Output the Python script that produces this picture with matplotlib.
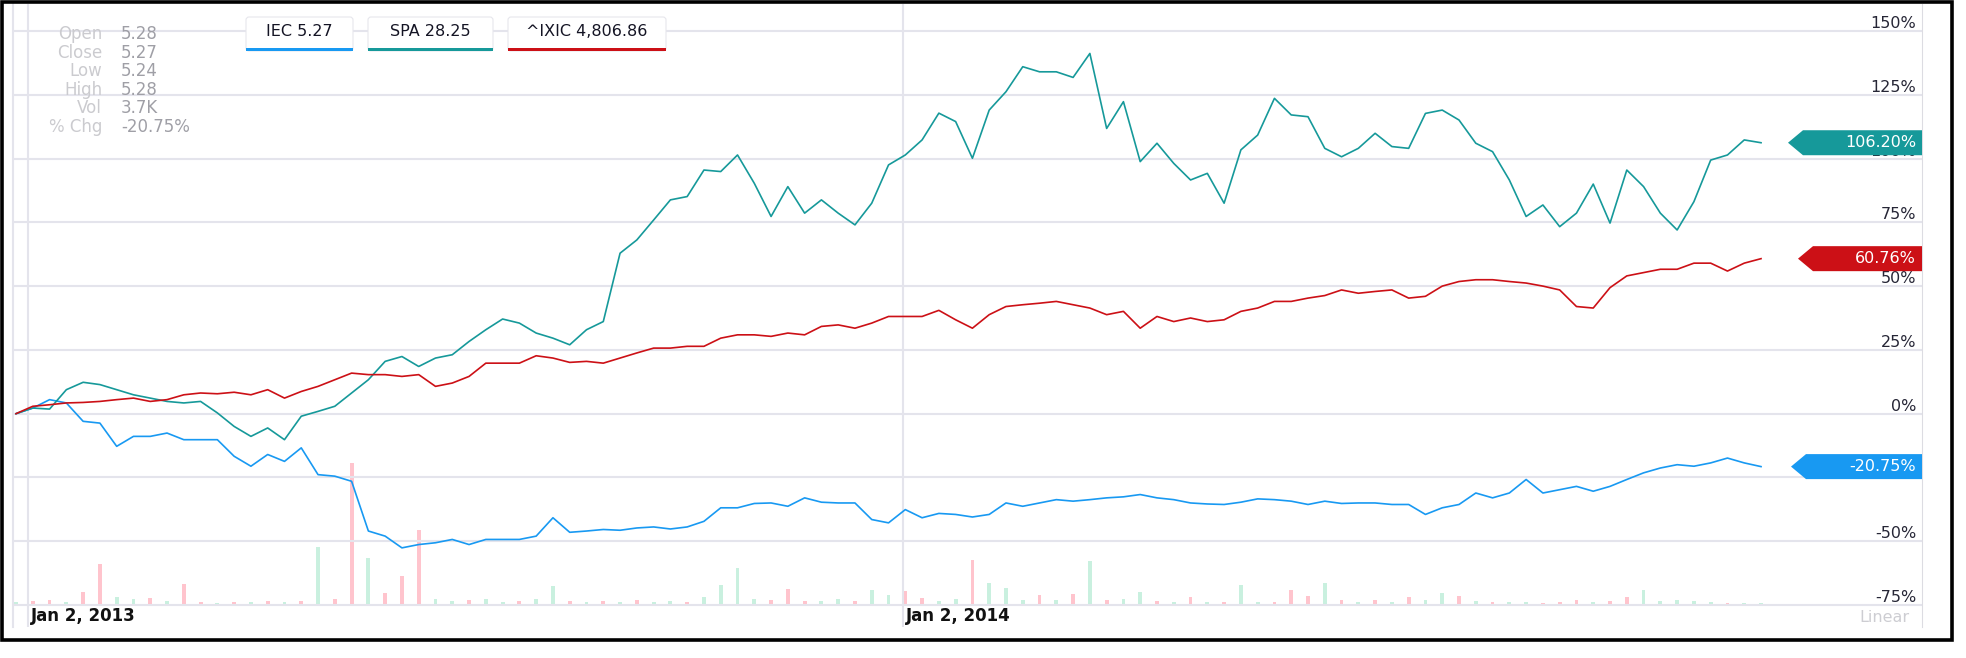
import matplotlib
matplotlib.use('Agg')
import matplotlib.pyplot as plt
import matplotlib.dates as mdates
import pandas as pd
from matplotlib.patches import Polygon, FancyBboxPatch, Rectangle
from matplotlib.transforms import IdentityTransform

plt.rcParams['font.family'] = ['DejaVu Sans']

# weekly closes, % change since the start of the period
dates = pd.date_range('2012-12-28', periods=105, freq='7D')

iec = [0, 2.2, 5.5, 4.2, -3.0, -3.7, -12.8, -8.9, -8.9, -7.6,
       -10.2, -10.2, -10.2, -16.7, -20.6, -16.0, -18.7, -13.4, -23.9, -24.5,
       -26.5, -46.0, -48.0, -52.6, -51.3, -50.6, -49.3, -51.3, -49.3, -49.3,
       -49.3, -48.0, -40.8, -46.5, -46.0, -45.4, -45.7, -44.8, -44.4, -45.2,
       -44.4, -42.2, -36.9, -36.9, -35.2, -35.0, -36.3, -33.0, -34.7, -35.0,
       -35.0, -41.5, -42.8, -37.6, -40.8, -39.1, -39.5, -40.5, -39.5, -35.0,
       -36.3, -35.0, -33.7, -34.3, -33.7, -33.0, -32.6, -31.7, -33.0, -33.7,
       -35.0, -35.4, -35.6, -34.7, -33.4, -33.7, -34.3, -35.6, -34.3, -35.2,
       -35.0, -35.0, -35.6, -35.6, -39.5, -36.9, -35.6, -31.1, -33.0, -31.1,
       -25.8, -31.1, -29.8, -28.5, -30.4, -28.5, -25.8, -23.2, -21.3, -20.0,
       -20.6, -19.3, -17.4, -19.3, -20.75]

spa = [0, 2.2, 1.8, 9.4, 12.3, 11.4, 9.4, 7.4, 6.1, 4.8,
       4.2, 4.8, 0.3, -5.0, -8.9, -5.6, -10.2, -1.0, 0.9, 2.9,
       8.1, 13.3, 20.5, 22.4, 18.5, 21.8, 23.1, 28.3, 32.9, 37.1,
       35.5, 31.6, 29.6, 27.0, 32.9, 36.1, 62.9, 68.1, 75.9, 83.8,
       85.1, 95.5, 94.9, 101.4, 90.3, 77.3, 89.0, 78.6, 83.8, 78.6,
       74.0, 82.5, 97.5, 101.4, 107.3, 117.8, 114.5, 100.1, 119.0, 126.2,
       136.0, 134.0, 134.0, 131.8, 141.2, 111.8, 122.3, 98.8, 106.0, 98.1,
       91.6, 94.2, 82.5, 103.4, 109.2, 123.6, 117.1, 116.4, 104.0, 100.7,
       104.0, 109.9, 104.7, 104.0, 117.7, 119.0, 115.1, 106.0, 102.7, 91.6,
       77.3, 81.8, 73.3, 78.6, 90.0, 74.7, 95.5, 89.0, 78.6, 72.0,
       83.1, 99.4, 101.4, 107.3, 106.2]

ixic = [0, 2.9, 3.5, 4.2, 4.4, 4.8, 5.5, 6.1, 4.8, 5.5,
        7.4, 8.1, 7.8, 8.4, 7.4, 9.4, 6.1, 8.7, 10.7, 13.3,
        15.9, 15.3, 15.3, 14.6, 15.3, 10.7, 12.0, 14.6, 19.8, 19.8,
        19.8, 22.7, 21.8, 20.1, 20.5, 19.8, 21.8, 23.8, 25.7, 25.7,
        26.4, 26.4, 29.6, 30.9, 30.9, 30.3, 31.6, 30.9, 34.2, 34.8,
        33.5, 35.5, 38.1, 38.1, 38.1, 40.5, 36.8, 33.5, 38.8, 42.0,
        42.7, 43.3, 44.0, 42.7, 41.4, 38.8, 40.1, 33.5, 38.1, 36.1,
        37.5, 36.1, 36.8, 40.1, 41.4, 44.0, 44.0, 45.3, 46.3, 48.5,
        47.2, 47.9, 48.5, 45.3, 46.0, 50.0, 51.8, 52.5, 52.5, 51.8,
        51.2, 50.0, 48.5, 42.0, 41.4, 49.4, 54.0, 55.3, 56.6, 56.6,
        59.0, 59.0, 55.9, 59.0, 60.76]

# IEC volume (K shares), 1 = up day, 0 = down day
vol = [3, 4, 5, 3, 13, 41, 8, 6, 7, 4,
       21, 3, 2, 3, 3, 4, 3, 4, 58, 6,
       142, 47, 12, 29, 75, 6, 4, 5, 6, 3,
       4, 6, 19, 4, 3, 4, 3, 5, 3, 4,
       3, 8, 20, 37, 6, 5, 16, 4, 4, 6,
       4, 15, 10, 14, 7, 4, 6, 45, 22, 17,
       5, 10, 5, 11, 44, 5, 6, 13, 4, 3,
       8, 3, 3, 20, 3, 3, 15, 9, 22, 5,
       3, 5, 3, 8, 5, 12, 9, 4, 3, 3,
       3, 2, 3, 5, 3, 4, 8, 15, 4, 5,
       4, 3, 2, 2, 2]
vol_up = [1, 0, 0, 1, 0, 0, 1, 1, 0, 1,
          0, 0, 1, 0, 1, 0, 1, 0, 1, 0,
          0, 1, 0, 0, 0, 1, 1, 0, 1, 1,
          0, 1, 1, 0, 1, 0, 1, 0, 1, 1,
          0, 1, 1, 1, 1, 0, 0, 0, 1, 1,
          0, 1, 1, 0, 0, 1, 1, 0, 1, 1,
          1, 0, 1, 0, 1, 0, 1, 1, 0, 1,
          0, 1, 0, 1, 1, 0, 0, 0, 1, 0,
          1, 0, 1, 0, 1, 1, 0, 1, 0, 1,
          1, 0, 0, 0, 1, 0, 0, 1, 1, 1,
          1, 1, 0, 1, 1]

names = ['IEC 5.27', 'SPA 28.25', '^IXIC 4,806.86']
colors = ['#1899f2', '#16999a', '#cc1016']
last = ['-20.75%', '106.20%', '60.76%']
info_labels = ['Open', 'Close', 'Low', 'High', 'Vol', '% Chg']
info_values = ['5.28', '5.27', '5.24', '5.28', '3.7K', '-20.75%']
yticks = [-75, -50, -25, 0, 25, 50, 75, 100, 125, 150]
xticks = [mdates.date2num(pd.Timestamp('2013-01-02')),
          mdates.date2num(pd.Timestamp('2014-01-02'))]
xlabels = ['Jan 2, 2013', 'Jan 2, 2014']

W, H = 1966, 658
fig = plt.figure(figsize=(W / 100, H / 100), dpi=100, facecolor='white')
ax = fig.add_axes([13 / W, 1 - 627 / H, (1922 - 13) / W, (627 - 4) / H])

grid = '#e4e4ec'
x0 = xticks[0]

# volume underneath
axv = ax.twinx()
axv.set_ylim(-22, 601)
axv.set_axis_off()
axv.bar(mdates.date2num(dates), vol, width=1.6, bottom=0,
        color=['#c9f0df' if u else '#ffc4cd' for u in vol_up], zorder=1)
ax.set_zorder(axv.get_zorder() + 1)
ax.patch.set_visible(False)

for series, c in zip([iec, spa, ixic], colors):
    ax.plot(mdates.date2num(dates), series, color=c, lw=1.2, zorder=3)

ax.set_xlim(x0 - 15 / 2.397, x0 + 1894 / 2.397)
ax.set_ylim(-83.62, 160.58)
ax.set_yticks(yticks)
ax.set_xticks(xticks)
ax.grid(True, color=grid, lw=1.5)
ax.tick_params(left=False, right=False, bottom=False, top=False,
               labelleft=False, labelbottom=False)
for s in ['top', 'bottom']:
    ax.spines[s].set_visible(False)
ax.spines['left'].set_color(grid)
ax.spines['left'].set_linewidth(1.5)
ax.spines['right'].set_color('#dcdce2')
ax.spines['right'].set_linewidth(0.8)

for v in yticks:
    ax.annotate(f'{v}%', xy=(1, v), xycoords=ax.get_yaxis_transform(),
                xytext=(-6, 3), textcoords='offset pixels', ha='right',
                va='baseline', fontsize=11.5, color='#262636', zorder=4)

for d, lab in zip(xticks, xlabels):
    ax.annotate(lab, xy=(d, 0), xycoords=ax.get_xaxis_transform(),
                xytext=(3, 11), textcoords='offset pixels', ha='left',
                va='center', fontsize=12, fontweight='bold', color='#111111')

ax.annotate('Linear', xy=(1, 0), xycoords='axes fraction', xytext=(-13, 10),
            textcoords='offset pixels', ha='right', va='center',
            fontsize=11.5, color='#cdcdd2')

# end-value badges
fig.canvas.draw()
ident = IdentityTransform()
right = ax.transAxes.transform((1, 0))[0]
tips = [131, 134, 124]
for series, c, txt, tip in zip([iec, spa, ixic], colors, last, tips):
    yd = ax.transData.transform((x0, series[-1]))[1]
    h = 12.5
    pts = [(right - tip, yd), (right - tip + 15, yd + h), (right, yd + h),
           (right, yd - h), (right - tip + 15, yd - h)]
    fig.add_artist(Polygon(pts, closed=True, facecolor=c, edgecolor='none',
                           transform=ident, zorder=5))
    fig.text(right - 6, yd, txt, transform=ident, ha='right', va='center',
             fontsize=11.5, color='white', zorder=6)

# legend boxes
boxes = [(246, 353), (368, 493), (508, 666)]
for (a, b), name, c in zip(boxes, names, colors):
    fig.add_artist(FancyBboxPatch((a, H - 51), b - a, 34,
                                  boxstyle='round,pad=0,rounding_size=3',
                                  facecolor='white', edgecolor='#e6e6ec',
                                  lw=0.8, transform=ident, zorder=5))
    fig.add_artist(Rectangle((a, H - 51), b - a, 3, facecolor=c,
                             edgecolor='none', transform=ident, zorder=6))
    fig.text((a + b) / 2, H - 32, name, transform=ident, ha='center',
             va='center', fontsize=11.5, color='#141424', zorder=7)

# quote info
for i, (lab, val) in enumerate(zip(info_labels, info_values)):
    yy = H - (34 + 18.6 * i)
    fig.text(102, yy, lab, transform=ident, ha='right', va='center',
             fontsize=12, color='#cbcbcf')
    fig.text(121, yy, val, transform=ident, ha='left', va='center',
             fontsize=12, color='#9f9fa6')

# outer frame
fig.add_artist(Rectangle((1.75, H - 640), 1950.25, 638.5, fill=False,
                         edgecolor='black', lw=2.6, transform=ident,
                         zorder=10))

fig.savefig('out.png', dpi=100, facecolor='white')
